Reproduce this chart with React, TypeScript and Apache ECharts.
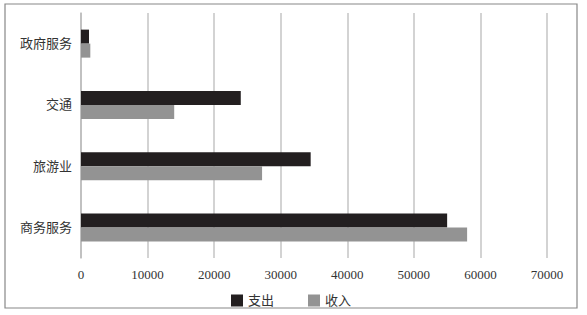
import React, { useEffect, useRef } from "react";
import * as echarts from "echarts";

const categories = ["商务服务", "旅游业", "交通", "政府服务"];
const expenditure = [55000, 34500, 24000, 1200];
const income = [58000, 27200, 14000, 1400];
const seriesNames = ["支出", "收入"];

const FONT = "'Liberation Serif', 'Noto Sans CJK SC', serif";

export default function App() {
  const ref = useRef<HTMLDivElement>(null);
  useEffect(() => {
    if (!ref.current) return;
    const chart = echarts.init(ref.current, undefined, { renderer: "svg" });
    chart.setOption({
      animation: false,
      backgroundColor: "#ffffff",
      textStyle: { fontFamily: FONT },
      graphic: [
        {
          type: "rect",
          shape: { x: 5, y: 4, width: 572, height: 304 },
          style: { fill: "none", stroke: "#888888", lineWidth: 1.2 },
          silent: true,
        },
      ],
      legend: {
        data: seriesNames,
        left: 226,
        top: 289,
        icon: "rect",
        itemWidth: 12,
        itemHeight: 12,
        itemGap: 34,
        textStyle: { fontFamily: FONT, fontSize: 13, color: "#333333" },
      },
      grid: { left: 81, right: 40, top: 13, bottom: 57 },
      xAxis: {
        type: "value",
        min: 0,
        max: 70000,
        interval: 10000,
        axisLine: { show: false },
        axisTick: { show: false },
        splitLine: { show: true, lineStyle: { color: "#c4c4c4", width: 1.5 } },
        axisLabel: {
          fontFamily: FONT,
          fontSize: 13,
          color: "#333333",
          margin: 10,
          formatter: (v: number) => String(v),
        },
      },
      yAxis: {
        type: "category",
        data: categories,
        axisLine: { show: true, lineStyle: { color: "#bbbbbb", width: 1.5 } },
        axisTick: { show: false },
        axisLabel: { fontFamily: FONT, fontSize: 13, color: "#333333", margin: 9 },
      },
      series: [
        {
          name: seriesNames[0],
          type: "bar",
          data: expenditure,
          barWidth: 14,
          barGap: "0%",
          itemStyle: { color: "#231f20" },
        },
        {
          name: seriesNames[1],
          type: "bar",
          data: income,
          barWidth: 14,
          barGap: "0%",
          itemStyle: { color: "#939393" },
        },
      ],
    });
    return () => chart.dispose();
  }, []);
  return (
    <div
      ref={ref}
      style={{ position: "fixed", left: 0, top: 0, width: 587, height: 315 }}
    />
  );
}
